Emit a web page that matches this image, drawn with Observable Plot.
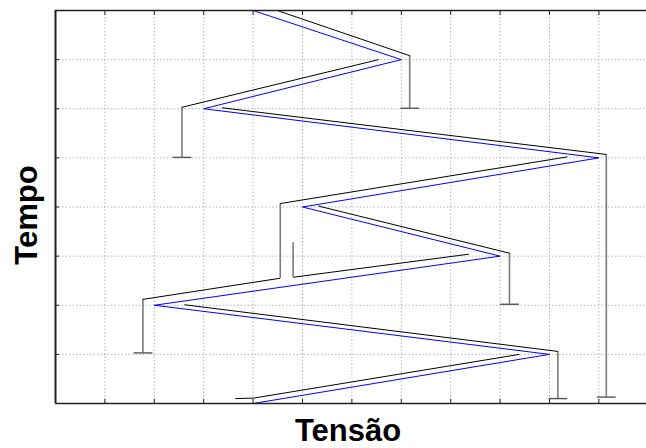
<!DOCTYPE html>
<html>
<head>
<meta charset="utf-8">
<script src="https://cdn.jsdelivr.net/npm/d3@7"></script>
<script src="https://cdn.jsdelivr.net/npm/@observablehq/plot@0.6"></script>
<style>
  html, body { margin: 0; padding: 0; background: #fff; overflow: hidden; }
</style>
</head>
<body>
<div id="chart"></div>
<script>
// Blue zigzag (Tensão vs Tempo)
const blueX = [4, 7, 3, 11, 5, 9, 2, 10, 4];
const blueY = [8, 7, 6, 5, 4, 3, 2, 1, 0];

// Black segments
const blackX1 = [4.49, 6.54, 3.37, 10.36, 5.32, 8.37, 4.55, 2.61, 9.39, 4.01];
const blackY1 = [8.00, 7.00, 6.02, 5.02, 4.02, 3.04, 2.55, 2.01, 1.00, 0.11];
const blackX2 = [7.17, 2.56, 11.15, 4.55, 9.19, 4.81, 1.77, 10.17, 4.01, 3.64];
const blackY2 = [7.08, 6.03, 5.07, 4.07, 3.06, 2.57, 2.12, 1.06, 0.11, 0.10];

// Gray vertical drops
const dropX      = [7.17, 2.56, 11.15, 4.55, 9.19, 4.81, 1.77, 10.17];
const dropTop    = [7.08, 6.03, 5.07, 4.07, 3.06, 3.27, 2.12, 1.06];
const dropBottom = [6.01, 5.01, 0.13, 2.55, 2.02, 2.57, 1.03, 0.10];
const dropCap    = [true, true, true, false, true, false, true, true];

const gridXTicks = [1, 2, 3, 4, 5, 6, 7, 8, 9, 10, 11];
const gridYTicks = [1, 2, 3, 4, 5, 6, 7];
const xLabel = "Tensão";
const yLabel = "Tempo";

const blue = blueX.map((x, i) => ({x, y: blueY[i]}));
const black = blackX1.map((x1, i) => ({x1, y1: blackY1[i], x2: blackX2[i], y2: blackY2[i]}));
const drops = dropX.map((x, i) => ({x, y1: dropTop[i], y2: dropBottom[i], cap: dropCap[i]}));
const caps = drops.filter(d => d.cap);

const capHalf = 0.19;
const frameColor = "#222";
const font = "'Liberation Sans', Arial, sans-serif";

const chart = Plot.plot({
  width: 646,
  height: 448,
  marginLeft: 55,
  marginTop: 10,
  marginBottom: 45,
  marginRight: 0,
  style: {fontFamily: font, background: "#fff"},
  x: {domain: [0, 591 / 49.4], label: null},
  y: {domain: [0, 8], label: null},
  marks: [
    Plot.gridX(gridXTicks, {stroke: "#b5b5b5", strokeOpacity: 1, strokeDasharray: "1.5,2"}),
    Plot.gridY(gridYTicks, {stroke: "#b5b5b5", strokeOpacity: 1, strokeDasharray: "1.5,2"}),
    Plot.axisX(gridXTicks, {anchor: "bottom", tickSize: -4, tickFormat: () => "", stroke: frameColor, label: null}),
    Plot.axisX(gridXTicks, {anchor: "top", tickSize: -4, tickFormat: () => "", stroke: frameColor, label: null}),
    Plot.axisY(gridYTicks, {anchor: "left", tickSize: -4, tickFormat: () => "", stroke: frameColor, label: null}),
    Plot.ruleX(drops, {x: "x", y1: "y1", y2: "y2", stroke: "#7a7a7a", strokeWidth: 1.6}),
    Plot.link(caps, {x1: d => d.x - capHalf, x2: d => d.x + capHalf, y1: "y2", y2: "y2", stroke: "#555", strokeWidth: 1.4}),
    Plot.link(black, {x1: "x1", y1: "y1", x2: "x2", y2: "y2", stroke: "#000", strokeWidth: 1}),
    Plot.line(blue, {x: "x", y: "y", stroke: "#0000ff", strokeWidth: 1}),
    Plot.ruleY([0], {stroke: frameColor, strokeWidth: 1.6}),
    Plot.ruleY([8], {stroke: frameColor, strokeWidth: 1.6}),
    Plot.ruleX([0], {stroke: frameColor, strokeWidth: 2}),
    Plot.text([xLabel], {frameAnchor: "bottom", dx: -3, dy: 28, lineAnchor: "middle", textAnchor: "middle",
      fontSize: 31, fontWeight: "bold", fill: "#000", fontFamily: font}),
    Plot.text([yLabel], {frameAnchor: "left", dx: -28.5, dy: 8, rotate: -90, lineAnchor: "middle", textAnchor: "middle",
      fontSize: 31, fontWeight: "bold", fill: "#000", fontFamily: font})
  ]
});
document.getElementById("chart").appendChild(chart);
</script>
</body>
</html>
